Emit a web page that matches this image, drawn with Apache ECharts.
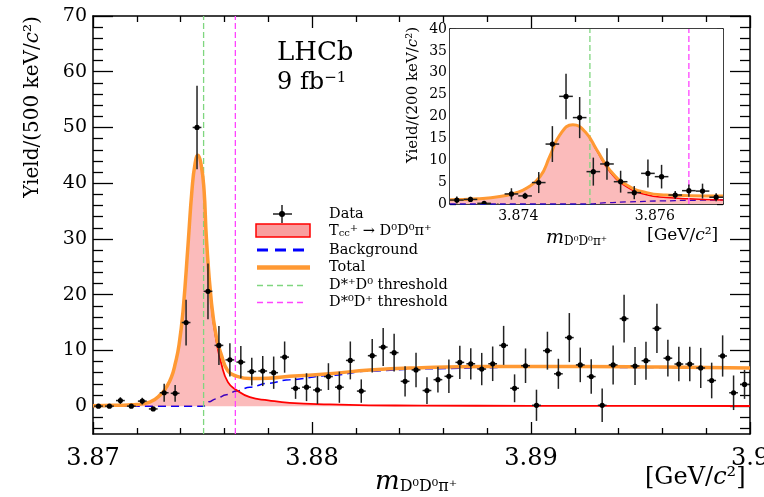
<!DOCTYPE html>
<html>
<head>
<meta charset="utf-8">
<script src="https://cdn.jsdelivr.net/npm/echarts@6/dist/echarts.min.js"></script>
<style>
html, body { margin: 0; padding: 0; background: #fff; }
#chart { width: 764px; height: 497px; }
</style>
</head>
<body>
<div id="chart"></div>
<script>
// main plot: 500 keV bins
var binCentres = [3.87025, 3.87075, 3.87125, 3.87175, 3.87225, 3.87275, 3.87325, 3.87375, 3.87425, 3.87475,
  3.87525, 3.87575, 3.87625, 3.87675, 3.87725, 3.87775, 3.87825, 3.87875, 3.87925, 3.87975,
  3.88025, 3.88075, 3.88125, 3.88175, 3.88225, 3.88275, 3.88325, 3.88375, 3.88425, 3.88475,
  3.88525, 3.88575, 3.88625, 3.88675, 3.88725, 3.88775, 3.88825, 3.88875, 3.88925, 3.88975,
  3.89025, 3.89075, 3.89125, 3.89175, 3.89225, 3.89275, 3.89325, 3.89375, 3.89425, 3.89475,
  3.89525, 3.89575, 3.89625, 3.89675, 3.89725, 3.89775, 3.89825, 3.89875, 3.89925, 3.89975];
var yieldMain = [0, 0, 1.0, 0, 0.9, -0.5, 2.4, 2.3, 15.0, 50.0,
  20.6, 10.9, 8.3, 7.9, 6.2, 6.3, 6.0, 8.8, 3.2, 3.4,
  2.9, 5.3, 3.4, 8.2, 2.7, 9.05, 10.6, 9.6, 4.45, 6.5,
  2.8, 4.75, 5.35, 7.85, 7.6, 6.65, 7.6, 10.9, 3.2, 7.25,
  0.15, 9.95, 5.8, 12.3, 7.4, 5.3, 0.15, 7.4, 15.7, 7.2,
  8.15, 13.95, 8.6, 7.55, 7.55, 6.85, 4.6, 9.0, 2.4, 3.9];
var errMain = [0, 0, 0.6, 0, 0.6, 0.3, 1.6, 1.5, 4.1, 7.5,
  5.0, 3.5, 3.0, 2.9, 2.5, 2.7, 2.9, 2.8, 1.9, 2.5,
  2.5, 2.4, 2.8, 3.4, 2.1, 3.0, 3.4, 3.4, 2.7, 3.1,
  2.4, 2.3, 3.0, 3.0, 2.8, 2.9, 3.1, 3.5, 2.5, 3.1,
  2.8, 3.4, 2.7, 4.4, 3.1, 3.1, 3.0, 3.5, 4.3, 3.4,
  3.4, 4.4, 3.3, 3.1, 3.1, 3.6, 3.2, 3.7, 3.1, 2.6];

// fit curves, main plot
var totalX = [3.8700, 3.8710, 3.8716, 3.8720, 3.87259, 3.87312, 3.87335, 3.87358, 3.87376, 3.87393, 3.87411, 3.87434, 3.87452, 3.87466, 3.87479,
  3.87493, 3.87507, 3.87518, 3.87541, 3.87563, 3.87586, 3.87616, 3.87655, 3.87716, 3.8780, 3.87898, 3.88081,
  3.88264, 3.885, 3.888, 3.892, 3.896, 3.900];
var totalY = [0.05, 0.15, 0.22, 0.3, 0.7, 2.2, 3.4, 5.2, 7.7, 11, 17, 29, 38.8, 43.5, 45,
  43.5, 38.8, 30, 18.5, 12.5, 9.2, 6.3, 5.4, 4.95, 5.0, 5.35, 5.8,
  6.5, 6.9, 7.1, 7.1, 7.0, 6.85];
var signalX = [3.8700, 3.8710, 3.8716, 3.8720, 3.87259, 3.87312, 3.87335, 3.87358, 3.87376, 3.87393, 3.87411, 3.87434, 3.87452, 3.87466, 3.87479,
  3.87493, 3.87507, 3.87518, 3.87541, 3.87563, 3.87586, 3.87616, 3.87655, 3.87716, 3.8780, 3.87898, 3.88081,
  3.88264, 3.885, 3.890, 3.895, 3.900];
var signalY = [0.05, 0.15, 0.22, 0.3, 0.7, 2.2, 3.4, 5.2, 7.7, 11, 17, 29, 38.8, 43.5, 45,
  43.5, 38.8, 29.7, 18.0, 11.8, 7.6, 4.3, 2.9, 1.6, 1.05, 0.6, 0.3,
  0.15, 0.1, 0.05, 0.03, 0.02];
var bgX = [3.8700, 3.87505, 3.8753, 3.8756, 3.87609, 3.87655, 3.87716, 3.8780, 3.87898, 3.88081, 3.88264, 3.885, 3.890, 3.895, 3.900];
var bgY = [0, 0, 0.8, 1.3, 2.06, 2.7, 3.4, 4.1, 4.75, 5.5, 6.3, 6.7, 7.0, 6.95, 6.8];

// thresholds
var thrDstarPlusD0 = 3.87505;
var thrDstar0Dplus = 3.8765;

// inset: 200 keV bins
var insetCentres = [3.8731, 3.8733, 3.8735, 3.8737, 3.8739, 3.8741, 3.8743, 3.8745, 3.8747, 3.8749,
  3.8751, 3.8753, 3.8755, 3.8757, 3.8759, 3.8761, 3.8763, 3.8765, 3.8767, 3.8769];
var yieldInset = [0.9, 1.05, 0.15, -0.5, 2.3, 1.85, 4.9, 13.7, 24.6, 19.75,
  7.4, 9.15, 5.1, 2.6, 7.0, 6.25, 2.05, 3.05, 2.95, 1.55];
var errInset = [0.8, 0.6, 0.2, 0.5, 1.3, 0.7, 2.4, 4.1, 5.2, 4.7,
  3.2, 3.6, 2.5, 1.5, 3.2, 2.7, 0.9, 1.4, 1.7, 0.9];
var inTotX = [3.8730, 3.8734, 3.87373, 3.87395, 3.87412, 3.87432, 3.87446, 3.87461, 3.8748, 3.87498, 3.87515, 3.87534, 3.87559, 3.87588, 3.87617, 3.8765, 3.8770];
var inTotY = [0.95, 1.2, 1.7, 2.5, 3.6, 6.25, 10.8, 15.8, 18.1, 16.5, 12.4, 7.8, 4.35, 2.6, 2.06, 1.9, 1.83];
var inSigX = [3.8730, 3.8734, 3.87373, 3.87395, 3.87412, 3.87432, 3.87446, 3.87461, 3.8748, 3.87498, 3.87515, 3.87534, 3.87559, 3.87588, 3.87617, 3.8765, 3.8770];
var inSigY = [0.95, 1.2, 1.7, 2.5, 3.6, 6.25, 10.8, 15.8, 18.1, 16.5, 12.2, 7.4, 3.9, 2.1, 1.5, 1.2, 0.9];
var inBgX = [3.8730, 3.87505, 3.8753, 3.8756, 3.8761, 3.8765, 3.8770];
var inBgY = [0, 0, 0.3, 0.5, 0.7, 0.85, 0.95];

// tick labels
var yMajor = [0, 10, 20, 30, 40, 50, 60, 70];
var yMinor = [-4, -2, 2, 4, 6, 8, 12, 14, 16, 18, 22, 24, 26, 28, 32, 34, 36, 38, 42, 44, 46, 48, 52, 54, 56, 58, 62, 64, 66, 68];
var insetXLabels = [3.874, 3.876];
var insetXTicks = [3.8735, 3.874, 3.8745, 3.875, 3.8755, 3.876, 3.8765];

var SERIF = 'DejaVu Serif';
var GREEN = '#7fd67f', MAGENTA = '#ff44ff', ORANGE = '#ff9933', FILL = 'rgba(240,0,0,0.38)';

function pairs(xs, ys) {
  var out = [];
  for (var i = 0; i < xs.length; i++) out.push([xs[i], ys[i]]);
  return out;
}
function points(xs, ys, es) {
  var out = [];
  for (var i = 0; i < xs.length; i++) out.push([xs[i], ys[i], es[i]]);
  return out;
}

// data point with error bars
function errRender(halfW) {
  return function (params, api) {
    var x = api.value(0), y = api.value(1), e = api.value(2);
    var c = api.coord([x, y]);
    var t = api.coord([x, y + e]);
    var b = api.coord([x, y - e]);
    var l = api.coord([x - halfW, y]);
    var r = api.coord([x + halfW, y]);
    return {
      type: 'group',
      children: [
        { type: 'line', shape: { x1: c[0], y1: t[1], x2: c[0], y2: b[1] }, style: { stroke: '#222', lineWidth: 1.5 } },
        { type: 'line', shape: { x1: l[0], y1: c[1], x2: r[0], y2: c[1] }, style: { stroke: '#222', lineWidth: 1.5 } },
        { type: 'circle', shape: { cx: c[0], cy: c[1], r: 2.6 }, style: { fill: '#000' } }
      ]
    };
  };
}

// vertical threshold line through the whole y range
function thrLine(xi, yi, x, y0, y1, color, z) {
  return {
    type: 'line', xAxisIndex: xi, yAxisIndex: yi, data: [[x, y0], [x, y1]],
    symbol: 'none', silent: true, z: z,
    lineStyle: { color: color, width: 1.3, type: [6, 3] }
  };
}

var black = { color: '#000', width: 1.3 };

function xAx(grid, pos, min, max, extra) {
  var a = {
    type: 'value', gridIndex: grid, position: pos, min: min, max: max,
    axisLine: { show: true, onZero: false, lineStyle: { color: '#000', width: 1.5 } },
    splitLine: { show: false },
    minorSplitLine: { show: false }
  };
  for (var k in extra) a[k] = extra[k];
  return a;
}
function yAx(grid, pos, min, max, extra) {
  var a = {
    type: 'value', gridIndex: grid, position: pos, min: min, max: max, offset: 0,
    axisLine: { show: true, onZero: false, lineStyle: { color: '#000', width: 1.5 } },
    splitLine: { show: false },
    minorSplitLine: { show: false }
  };
  for (var k in extra) a[k] = extra[k];
  return a;
}

var mainXTicks = {
  interval: 0.01,
  axisTick: { inside: true, length: 12, lineStyle: black },
  minorTick: { show: true, splitNumber: 5, length: 6, lineStyle: black }
};

function serifRich(size) {
  return {
    n: { fontFamily: SERIF, fontSize: size, fill: '#000' },
    i: { fontFamily: SERIF, fontSize: size, fontStyle: 'italic', fill: '#000' }
  };
}

var option = {
  animation: false,
  backgroundColor: '#fff',
  grid: [
    { left: 93, right: 14, top: 16, bottom: 63, outerBoundsMode: 'none' },
    { left: 450, right: 41, top: 29, bottom: 293, outerBoundsMode: 'none', show: true, backgroundColor: '#fff', borderWidth: 0, z: 5 }
  ],
  xAxis: [
    xAx(0, 'bottom', 3.87, 3.9, Object.assign({}, mainXTicks, {
      axisLabel: { fontFamily: SERIF, fontSize: 24, color: '#000', margin: 13 }
    })),
    xAx(0, 'top', 3.87, 3.9, Object.assign({}, mainXTicks, { axisLabel: { show: false } })),
    xAx(1, 'bottom', 3.873, 3.877, {
      axisTick: { inside: true, length: 5, lineStyle: black, customValues: insetXTicks },
      axisLabel: { fontFamily: SERIF, fontSize: 14, color: '#000', margin: 5, customValues: insetXLabels,
        formatter: function (v) { return v.toFixed(3); } }
    }),
    xAx(1, 'top', 3.873, 3.877, {
      axisTick: { inside: true, length: 5, lineStyle: black, customValues: insetXTicks },
      axisLabel: { show: false }
    })
  ],
  yAxis: [
    yAx(0, 'left', -5, 70, {
      axisTick: { inside: true, length: 20, lineStyle: black, customValues: yMajor },
      axisLabel: { fontFamily: SERIF, fontSize: 19, color: '#000', margin: 6, customValues: yMajor }
    }),
    yAx(0, 'left', -5, 70, {
      axisLine: { show: false },
      axisTick: { inside: true, length: 10, lineStyle: black, customValues: yMinor },
      axisLabel: { show: false }
    }),
    yAx(0, 'right', -5, 70, {
      axisTick: { inside: true, length: 20, lineStyle: black, customValues: yMajor },
      axisLabel: { show: false }
    }),
    yAx(0, 'right', -5, 70, {
      axisLine: { show: false },
      axisTick: { inside: true, length: 10, lineStyle: black, customValues: yMinor },
      axisLabel: { show: false }
    }),
    yAx(1, 'left', 0, 40, {
      interval: 5,
      axisTick: { inside: true, length: 6, lineStyle: black },
      minorTick: { show: true, splitNumber: 5, length: 3, lineStyle: black },
      axisLabel: { fontFamily: SERIF, fontSize: 14, color: '#000', margin: 3 }
    }),
    yAx(1, 'right', 0, 40, {
      interval: 5,
      axisTick: { inside: true, length: 6, lineStyle: black },
      minorTick: { show: true, splitNumber: 5, length: 3, lineStyle: black },
      axisLabel: { show: false }
    })
  ],
  series: [
    {
      type: 'line', name: 'Background', xAxisIndex: 0, yAxisIndex: 0,
      data: pairs(bgX, bgY), smooth: 0.4, smoothMonotone: 'x', symbol: 'none', z: 2,
      lineStyle: { color: '#0000ff', width: 1.5, type: [8, 5] }
    },
    {
      type: 'line', name: 'Signal', xAxisIndex: 0, yAxisIndex: 0,
      data: pairs(signalX, signalY), smooth: 0.5, symbol: 'none', z: 3,
      lineStyle: { color: '#ff0000', width: 1.8 },
      areaStyle: { color: FILL }
    },
    thrLine(0, 0, thrDstarPlusD0, -5, 70, GREEN, 4),
    thrLine(0, 0, thrDstar0Dplus, -5, 70, MAGENTA, 4),
    {
      type: 'line', name: 'Total', xAxisIndex: 0, yAxisIndex: 0,
      data: pairs(totalX, totalY), smooth: 0.5, symbol: 'none', z: 5,
      lineStyle: { color: ORANGE, width: 3.5 }
    },
    {
      type: 'custom', name: 'Data', xAxisIndex: 0, yAxisIndex: 0, z: 6, clip: true,
      data: points(binCentres, yieldMain, errMain),
      encode: { x: 0, y: 1 },
      renderItem: errRender(0.0002)
    },
    // inset
    {
      type: 'line', xAxisIndex: 2, yAxisIndex: 4,
      data: pairs(inBgX, inBgY), smooth: 0.4, smoothMonotone: 'x', symbol: 'none', z: 12,
      lineStyle: { color: '#0000ff', width: 1.3, type: [6, 4] }
    },
    {
      type: 'line', xAxisIndex: 2, yAxisIndex: 4,
      data: pairs(inSigX, inSigY), smooth: 0.5, symbol: 'none', z: 13,
      lineStyle: { color: '#ff0000', width: 1.5 },
      areaStyle: { color: FILL }
    },
    thrLine(2, 4, thrDstarPlusD0, 0, 40, GREEN, 14),
    thrLine(2, 4, thrDstar0Dplus, 0, 40, MAGENTA, 14),
    {
      type: 'line', xAxisIndex: 2, yAxisIndex: 4,
      data: pairs(inTotX, inTotY), smooth: 0.5, symbol: 'none', z: 15,
      lineStyle: { color: ORANGE, width: 3 }
    },
    {
      type: 'custom', xAxisIndex: 2, yAxisIndex: 4, z: 16, clip: true,
      data: points(insetCentres, yieldInset, errInset),
      encode: { x: 0, y: 1 },
      renderItem: errRender(0.0001)
    }
  ],
  graphic: [
    { type: 'text', x: 277, y: 53, style: { text: 'LHCb', fontFamily: SERIF, fontSize: 26, fill: '#000', verticalAlign: 'middle' } },
    { type: 'text', x: 277, y: 83,
      style: { text: '{n|9 fb}{p|−1}', verticalAlign: 'middle', fill: '#000',
        rich: { n: { fontFamily: SERIF, fontSize: 24, fill: '#000' }, p: { fontFamily: SERIF, fontSize: 15, fill: '#000', verticalAlign: 'top' } } } },
    // main y title
    { type: 'text', x: 33, y: 107, rotation: Math.PI / 2,
      style: { text: '{n|Yield/(500 keV/}{i|c}{n|²)}', align: 'center', verticalAlign: 'middle', fill: '#000', rich: serifRich(20) } },
    // main x title
    { type: 'text', x: 375, y: 482,
      style: { text: '{m|m}{s|D⁰D⁰π⁺}', verticalAlign: 'middle', fill: '#000',
        rich: { m: { fontFamily: SERIF, fontSize: 26, fontStyle: 'italic', fill: '#000' }, s: { fontFamily: SERIF, fontSize: 16, fill: '#000', verticalAlign: 'bottom' } } } },
    { type: 'text', x: 645, y: 478,
      style: { text: '{n|[GeV/}{i|c}{n|²]}', verticalAlign: 'middle', fill: '#000', rich: serifRich(24) } },
    // inset titles
    { type: 'text', x: 413, y: 95, rotation: Math.PI / 2,
      style: { text: '{n|Yield/(200 keV/}{i|c}{n|²)}', align: 'center', verticalAlign: 'middle', fill: '#000', rich: serifRich(15) } },
    { type: 'text', x: 546, y: 238,
      style: { text: '{m|m}{s|D⁰D⁰π⁺}', verticalAlign: 'middle', fill: '#000',
        rich: { m: { fontFamily: SERIF, fontSize: 19, fontStyle: 'italic', fill: '#000' }, s: { fontFamily: SERIF, fontSize: 12, fill: '#000', verticalAlign: 'bottom' } } } },
    { type: 'text', x: 647, y: 236,
      style: { text: '{n|[GeV/}{i|c}{n|²]}', verticalAlign: 'middle', fill: '#000', rich: serifRich(17) } },
    // legend
    { type: 'line', shape: { x1: 282, y1: 205, x2: 282, y2: 223 }, style: { stroke: '#222', lineWidth: 1.5 } },
    { type: 'line', shape: { x1: 273, y1: 214, x2: 292, y2: 214 }, style: { stroke: '#222', lineWidth: 1.5 } },
    { type: 'circle', shape: { cx: 282, cy: 214, r: 3 }, style: { fill: '#000' } },
    { type: 'rect', shape: { x: 256, y: 224, width: 54, height: 13 }, style: { fill: FILL, stroke: '#ff0000', lineWidth: 1.5 } },
    { type: 'line', shape: { x1: 257, y1: 250, x2: 305, y2: 250 }, style: { stroke: '#0000ff', lineWidth: 3, lineDash: [11, 7] } },
    { type: 'line', shape: { x1: 257, y1: 267.5, x2: 310, y2: 267.5 }, style: { stroke: ORANGE, lineWidth: 4.5 } },
    { type: 'line', shape: { x1: 257, y1: 285.5, x2: 307, y2: 285.5 }, style: { stroke: GREEN, lineWidth: 1.3, lineDash: [6, 4] } },
    { type: 'line', shape: { x1: 257, y1: 302.5, x2: 307, y2: 302.5 }, style: { stroke: MAGENTA, lineWidth: 1.3, lineDash: [6, 4] } },
    { type: 'text', x: 329, y: 214, style: { text: 'Data', fontFamily: SERIF, fontSize: 14.5, fill: '#000', verticalAlign: 'middle' } },
    { type: 'text', x: 329, y: 231,
      style: { text: '{n|T}{s|cc}{p|+}{n| → D⁰D⁰π⁺}', verticalAlign: 'middle', fill: '#000',
        rich: { n: { fontFamily: SERIF, fontSize: 14.5, fill: '#000' },
          s: { fontFamily: SERIF, fontSize: 10, fill: '#000', verticalAlign: 'bottom' },
          p: { fontFamily: SERIF, fontSize: 10, fill: '#000', verticalAlign: 'top' } } } },
    { type: 'text', x: 329, y: 250, style: { text: 'Background', fontFamily: SERIF, fontSize: 14.5, fill: '#000', verticalAlign: 'middle' } },
    { type: 'text', x: 329, y: 267.5, style: { text: 'Total', fontFamily: SERIF, fontSize: 14.5, fill: '#000', verticalAlign: 'middle' } },
    { type: 'text', x: 329, y: 285.5, style: { text: 'D*⁺D⁰ threshold', fontFamily: SERIF, fontSize: 14.5, fill: '#000', verticalAlign: 'middle' } },
    { type: 'text', x: 329, y: 302.5, style: { text: 'D*⁰D⁺ threshold', fontFamily: SERIF, fontSize: 14.5, fill: '#000', verticalAlign: 'middle' } }
  ]
};

var chart = echarts.init(document.getElementById('chart'), null, { renderer: 'canvas' });
chart.setOption(option);
</script>
</body>
</html>
